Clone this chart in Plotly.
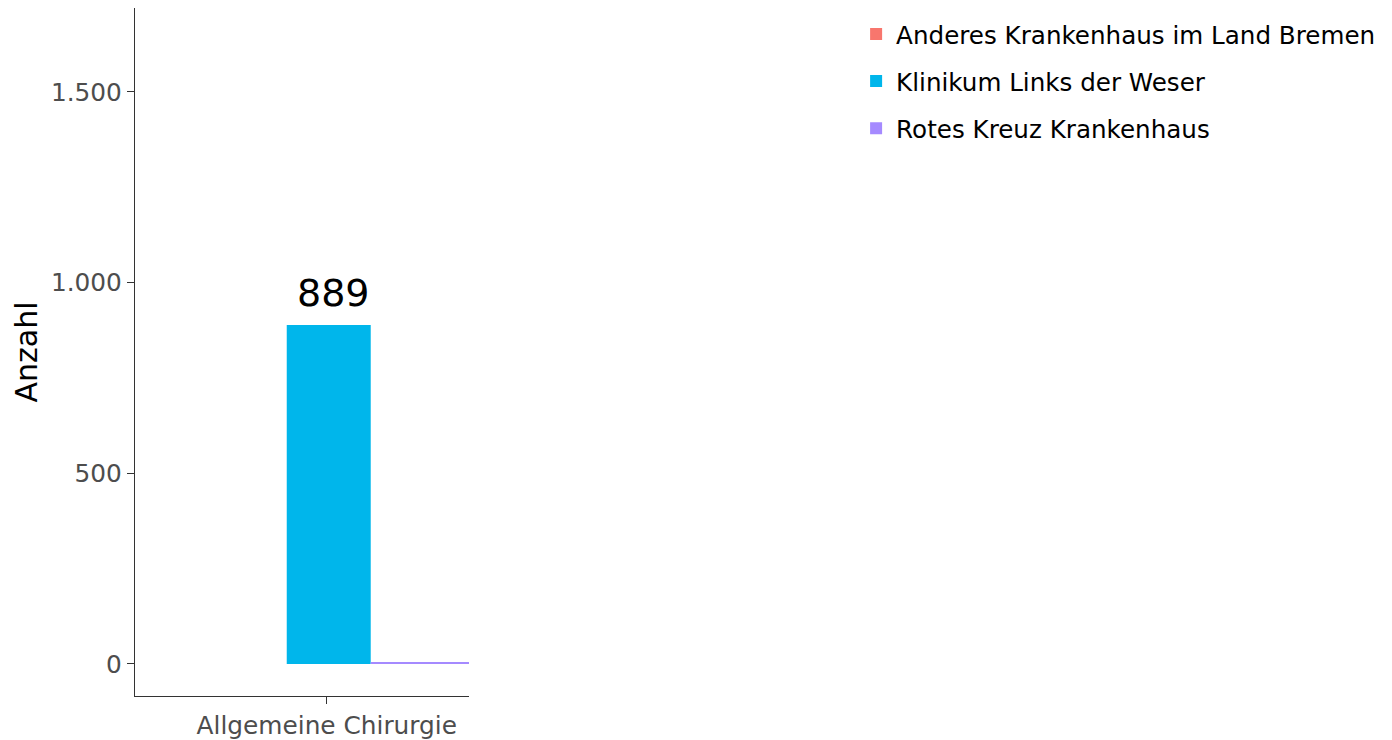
import plotly.graph_objects as go

categories = ["Allgemeine Chirurgie"]
hospitals = ["Anderes Krankenhaus im Land Bremen", "Klinikum Links der Weser", "Rotes Kreuz Krankenhaus"]
values = {
    "Anderes Krankenhaus im Land Bremen": [0],
    "Klinikum Links der Weser": [889],
    "Rotes Kreuz Krankenhaus": [4],
}
colors = ["#F8766D", "#00B6EB", "#A58AFF"]
offsets = [-0.443, -0.143, 0.157]
widths = [0.3, 0.3, 0.4]
labels = {"Klinikum Links der Weser": True}

FONT = "DejaVu Sans"

fig = go.Figure()
for h, c, o, w in zip(hospitals, colors, offsets, widths):
    fig.add_trace(go.Bar(
        x=categories, y=values[h], name=h, legendgroup=h,
        marker=dict(color=c, line=dict(width=0)),
        offset=o, width=w,
    ))

for h in hospitals:
    if labels.get(h):
        for cat, v in zip(categories, values[h]):
            fig.add_annotation(x=cat, y=v, text=f"{v:,}".replace(",", "."),
                               showarrow=False, yanchor="bottom", yshift=8, xshift=7,
                               font=dict(family=FONT, size=38, color="black"))

fig.update_layout(
    width=1384, height=732,
    barmode="overlay",
    paper_bgcolor="white", plot_bgcolor="white",
    margin=dict(l=127, r=923, t=0, b=44, autoexpand=False),
    font=dict(family=FONT, color="#4D4D4D"),
    separators=",.",
    legend=dict(x=2.159, xanchor="left", y=0.995, yanchor="top",
                xref="paper", yref="paper",
                font=dict(family=FONT, size=24.6, color="black"),
                tracegroupgap=12.2, traceorder="grouped"),
    showlegend=True,
    xaxis=dict(type="category", range=[-0.685, 0.508], showline=True, linecolor="#333333",
               linewidth=1.3, ticks="outside", ticklen=7, tickwidth=1.3, tickcolor="#333333",
               showgrid=False, zeroline=False, automargin=False,
               tickfont=dict(family=FONT, size=24.8, color="#4D4D4D")),
    yaxis=dict(range=[-84, 1720], showline=True, linecolor="#333333", linewidth=1.3,
               ticks="outside", ticklen=7, tickwidth=1.3, tickcolor="#333333",
               showgrid=False, zeroline=False, tickvals=[0, 500, 1000, 1500],
               tickformat=",d", automargin=False,
               tickfont=dict(family=FONT, size=24.8, color="#4D4D4D"),
               title=dict(text="Anzahl", font=dict(family=FONT, size=30, color="black"),
                          standoff=4)),
)

fig.write_html("out.html")
